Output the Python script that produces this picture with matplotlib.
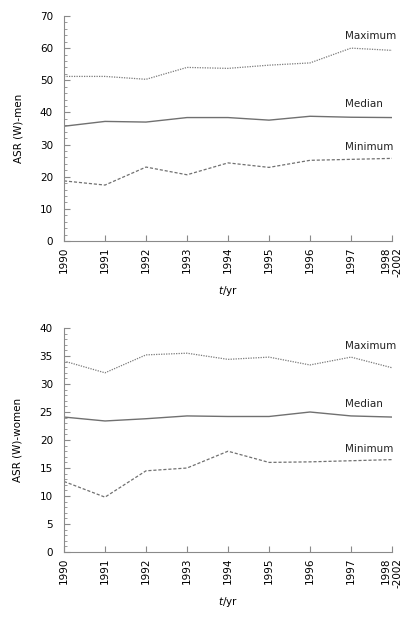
import matplotlib
matplotlib.use("Agg")
import matplotlib.pyplot as plt
from matplotlib.ticker import MultipleLocator

years = ["1990", "1991", "1992", "1993", "1994", "1995", "1996", "1997", "1998\n-2002"]

men_max = [51.2, 51.2, 50.3, 54.0, 53.7, 54.7, 55.4, 60.0, 59.3]
men_med = [35.7, 37.2, 37.0, 38.4, 38.4, 37.6, 38.8, 38.5, 38.4]
men_min = [18.7, 17.4, 23.0, 20.6, 24.3, 22.9, 25.1, 25.4, 25.7]

women_max = [34.1, 32.0, 35.2, 35.5, 34.4, 34.8, 33.4, 34.8, 32.9]
women_med = [24.1, 23.4, 23.8, 24.3, 24.2, 24.2, 25.0, 24.3, 24.1]
women_min = [12.6, 9.8, 14.5, 15.0, 18.0, 16.0, 16.1, 16.3, 16.5]

plt.rcParams['font.family'] = ['DejaVu Sans']
fig = plt.figure(figsize=(4.11, 6.17), dpi=100)

line_col = '#707070'
spine_col = '#8a8a8a'

def panel(rect, mx, md, mn, ymax, major, minor, ylabel, label_y):
    ax = fig.add_axes(rect)
    x = list(range(len(years)))
    ax.plot(x, mx, color='#7a7a7a', lw=0.9, ls=(0, (1, 1)))
    ax.plot(x, md, color=line_col, lw=1.0, ls='-')
    ax.plot(x, mn, color=line_col, lw=0.9, ls=(0, (2.5, 1.5)))
    ax.set_xlim(0, len(years) - 1)
    ax.set_ylim(0, ymax)
    ax.set_xticks(x)
    ax.set_xticklabels(years, rotation=90, ha='center', va='top', multialignment='right', fontsize=7.5)
    ax.yaxis.set_major_locator(MultipleLocator(major))
    ax.yaxis.set_minor_locator(MultipleLocator(minor))
    ax.tick_params(axis='both', which='major', direction='in', length=4, color=spine_col, labelsize=7.5, pad=4)
    ax.tick_params(axis='y', which='major', pad=8)
    ax.tick_params(axis='y', which='minor', direction='in', length=2, color=spine_col)
    for s in ['top', 'right']:
        ax.spines[s].set_visible(False)
    for s in ['left', 'bottom']:
        ax.spines[s].set_color(spine_col)
        ax.spines[s].set_linewidth(0.8)
    ax.set_ylabel(ylabel, fontsize=7.5, labelpad=12)
    ax.set_xlabel(r'$\it{t}$/yr', fontsize=7.5, labelpad=5)
    for txt, yy in zip(["Maximum", "Median", "Minimum"], label_y):
        ax.text(6.85, yy, txt, fontsize=7.5, ha='left', va='center', color='#222222')
    return ax

panel([0.1557, 0.6094, 0.7981, 0.3647], men_max, men_med, men_min, 70, 10, 2,
      'ASR (W)-men', [63.8, 42.7, 29.2])
panel([0.1557, 0.1053, 0.7981, 0.3631], women_max, women_med, women_min, 40, 5, 1,
      'ASR (W)-women', [36.8, 26.4, 18.4])

fig.savefig('out.png', dpi=100)
